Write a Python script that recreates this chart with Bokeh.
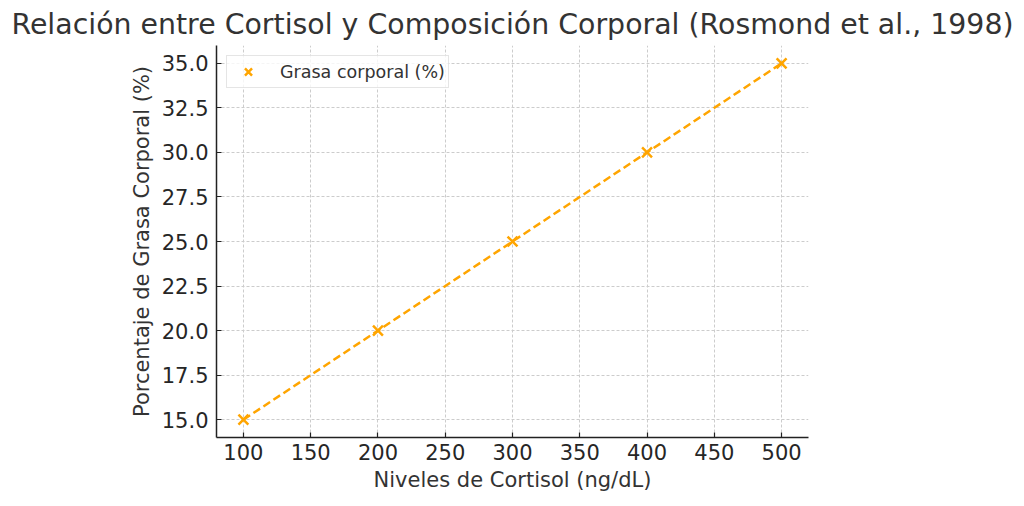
from bokeh.plotting import figure
from bokeh.models import ColumnDataSource, FixedTicker, Legend, LegendItem, CustomJSTickFormatter
from bokeh.embed import file_html
from bokeh.resources import INLINE

# Rosmond et al., 1998 - cortisol vs body fat
cortisol = [100, 200, 300, 400, 500]
grasa = [15, 20, 25, 30, 35]
x_ticks = [100, 150, 200, 250, 300, 350, 400, 450, 500]
y_ticks = [15.0, 17.5, 20.0, 22.5, 25.0, 27.5, 30.0, 32.5, 35.0]

FONT = "DejaVu Sans"
TXT = "#333333"
ORANGE = "#FFA500"

src = ColumnDataSource(data=dict(x=cortisol, y=grasa))

p = figure(width=1016, height=498, x_range=(80, 520), y_range=(14.0, 36.0),
           output_backend="svg", toolbar_location=None,
           title="Relación entre Cortisol y Composición Corporal (Rosmond et al., 1998)",
           min_border_left=216, min_border_right=208, min_border_bottom=61, min_border_top=5)

p.title.align = "center"
p.title.text_font = FONT
p.title.text_font_size = "28.4px"
p.title.text_font_style = "normal"
p.title.text_color = TXT

p.outline_line_color = None
p.background_fill_color = "white"
p.border_fill_color = "white"

for ax in (p.xaxis[0], p.yaxis[0]):
    ax.axis_line_color = "#222222"
    ax.axis_line_width = 1.5
    ax.major_tick_in = 5
    ax.major_tick_out = 0
    ax.minor_tick_line_color = None
    ax.major_tick_line_color = "#222222"
    ax.major_tick_line_width = 1.2
    ax.major_label_text_font = FONT
    ax.major_label_text_font_size = "21px"
    ax.major_label_text_color = "#262626"
    ax.axis_label_text_font = FONT
    ax.axis_label_text_font_size = "21px"
    ax.axis_label_text_font_style = "normal"
    ax.axis_label_text_color = TXT

p.xaxis.ticker = FixedTicker(ticks=x_ticks)
p.yaxis.ticker = FixedTicker(ticks=y_ticks)
p.yaxis.formatter = CustomJSTickFormatter(code="return tick.toFixed(1);")
p.xaxis.axis_label = "Niveles de Cortisol (ng/dL)"
p.yaxis.axis_label = "Porcentaje de Grasa Corporal (%)"
p.xaxis.major_label_standoff = 6
p.yaxis.major_label_standoff = 8

for g in (p.xgrid[0], p.ygrid[0]):
    g.grid_line_color = "#cccccc"
    g.grid_line_dash = "3 2"
    g.grid_line_width = 1
p.xgrid.ticker = FixedTicker(ticks=x_ticks)
p.ygrid.ticker = FixedTicker(ticks=y_ticks)

ln = p.line("x", "y", source=src, line_color=ORANGE, line_width=2.5, line_dash="8 4")
mk = p.scatter("x", "y", source=src, marker="x", size=14, line_color=ORANGE, line_width=2.5)

legend = Legend(items=[LegendItem(label="Grasa corporal (%)", renderers=[mk])],
                location="top_left")
legend.label_text_font = FONT
legend.label_text_font_size = "17.5px"
legend.label_text_color = TXT
legend.border_line_color = "#cccccc"
legend.border_line_width = 1
legend.background_fill_alpha = 0.8
legend.margin = 10
legend.padding = 3
legend.glyph_width = 36
legend.glyph_height = 25
legend.label_standoff = 14
p.add_layout(legend)

open("out.html", "w").write(file_html(p, INLINE))
